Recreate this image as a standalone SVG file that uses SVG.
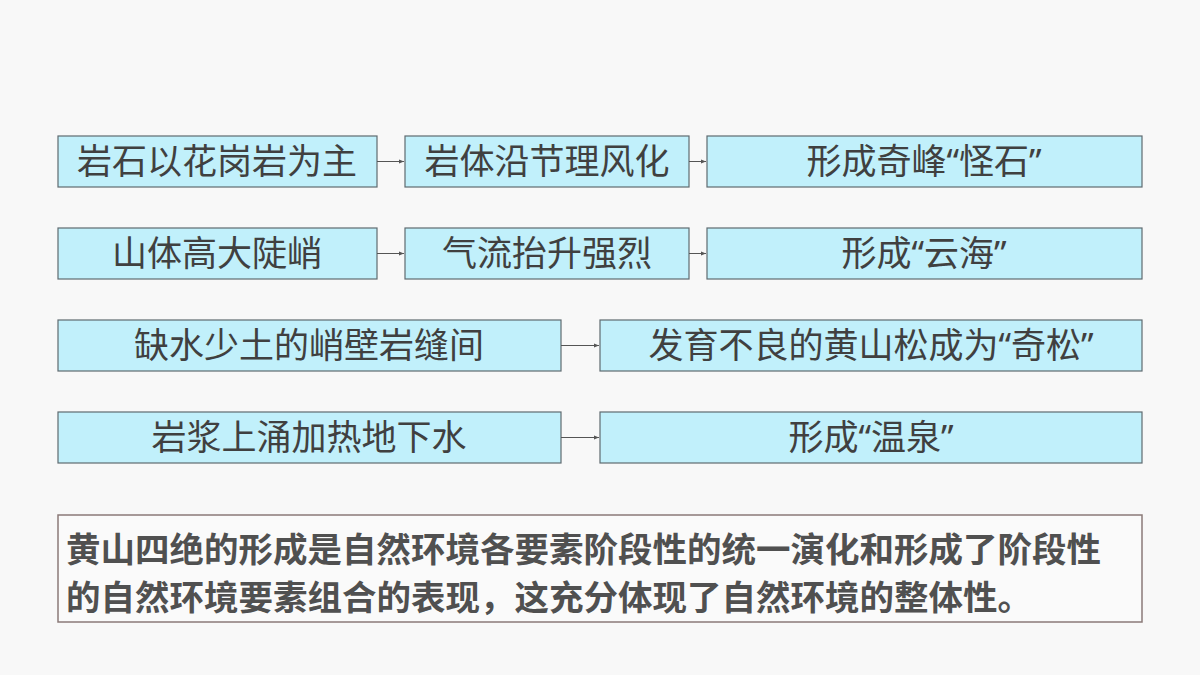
<svg xmlns="http://www.w3.org/2000/svg" width="1200" height="675" viewBox="0 0 1200 675">
<style>
.b{fill:#c1f0fb;stroke:#5f6b70;stroke-width:1.2}
.t{font-family:"Noto Sans","Noto Sans CJK SC",sans-serif;font-size:35px;fill:#404040;text-anchor:middle}
.c{stroke:#555;stroke-width:1;fill:none;marker-end:url(#a)}
.s{font-family:"Noto Sans","Noto Sans CJK SC",sans-serif;font-size:34.5px;font-weight:bold;fill:#505050}
</style>
<defs><marker id="a" markerWidth="6" markerHeight="6" refX="5" refY="3" orient="auto"><path d="M0,1 L5,3 L0,5z" fill="#555"/></marker></defs>
<rect width="1200" height="675" fill="#f8f8f8"/>
<g id="n1"><rect class="b" x="58" y="136" width="319" height="51"/><text class="t" x="217" y="174">岩石以花岗岩为主</text></g>
<g id="n2"><rect class="b" x="405" y="136" width="284" height="51"/><text class="t" x="547" y="174">岩体沿节理风化</text></g>
<g id="n3"><rect class="b" x="707" y="136" width="435" height="51"/><text class="t" x="924" y="174">形成奇峰“怪石”</text></g>
<g id="n4"><rect class="b" x="58" y="228" width="319" height="51"/><text class="t" x="217" y="266">山体高大陡峭</text></g>
<g id="n5"><rect class="b" x="405" y="228" width="284" height="51"/><text class="t" x="547" y="266">气流抬升强烈</text></g>
<g id="n6"><rect class="b" x="707" y="228" width="435" height="51"/><text class="t" x="924" y="266">形成“云海”</text></g>
<g id="n7"><rect class="b" x="58" y="320" width="503" height="51"/><text class="t" x="309" y="358">缺水少土的峭壁岩缝间</text></g>
<g id="n8"><rect class="b" x="600" y="320" width="542" height="51"/><text class="t" x="871" y="358">发育不良的黄山松成为“奇松”</text></g>
<g id="n9"><rect class="b" x="58" y="412" width="503" height="51"/><text class="t" x="309" y="450">岩浆上涌加热地下水</text></g>
<g id="n10"><rect class="b" x="600" y="412" width="542" height="51"/><text class="t" x="871" y="450">形成“温泉”</text></g>
<g id="connectors">
<path class="c" d="M377,161.5 H404"/><path class="c" d="M689,161.5 H706"/>
<path class="c" d="M377,253.5 H404"/><path class="c" d="M689,253.5 H706"/>
<path class="c" d="M561,345.5 H599"/><path class="c" d="M561,437.5 H599"/>
</g>
<g id="summary"><rect x="58" y="515" width="1084" height="107" fill="#fafafa" stroke="#8a7a78" stroke-width="1.5"/>
<text class="s" x="66" y="562">黄山四绝的形成是自然环境各要素阶段性的统一演化和形成了阶段性</text>
<text class="s" x="66" y="610">的自然环境要素组合的表现，这充分体现了自然环境的整体性。</text></g>
</svg>
